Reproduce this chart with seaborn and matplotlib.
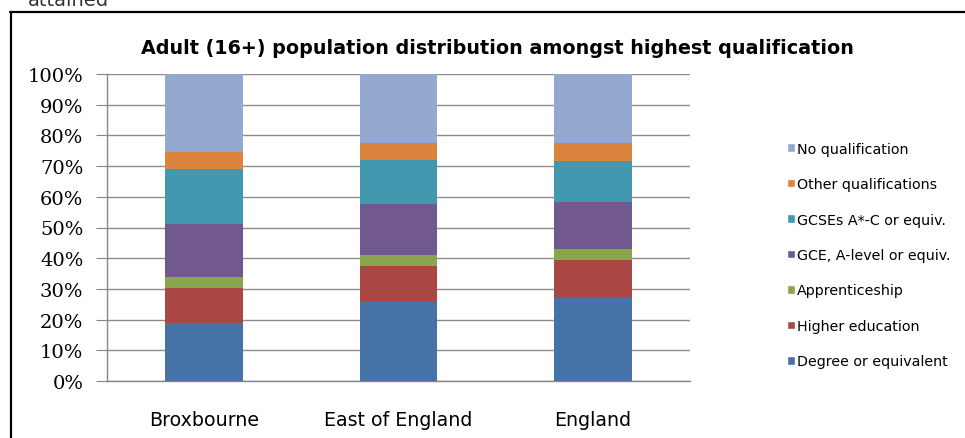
import seaborn as sns
import pandas as pd
from matplotlib import pyplot as plt
from matplotlib.lines import Line2D
from matplotlib.patches import Patch

areas = ['Broxbourne', 'East of England', 'England']
qualificacoes = ['Degree or equivalent', 'Higher education', 'Apprenticeship',
                 'GCE, A-level or equiv.', 'GCSEs A*-C or equiv.',
                 'Other qualifications', 'No qualification']
degree = [19.0, 25.6, 27.4]
higher = [11.2, 11.8, 12.1]
apprentice = [3.8, 3.8, 3.6]
gce = [17.1, 16.3, 15.1]
gcse = [18.1, 14.5, 13.5]
other = [5.3, 5.4, 5.8]
none_q = [25.5, 22.6, 22.5]
cores = ['#4572A7', '#AA4643', '#89A54E', '#71588F', '#4198AF', '#DB843D', '#93A9CF']

series = [degree, higher, apprentice, gce, gcse, other, none_q]
df = pd.DataFrame({'Area': areas})
acumulado = [0, 0, 0]
for nome, vals in zip(qualificacoes, series):
    acumulado = [a + v for a, v in zip(acumulado, vals)]
    df[nome] = acumulado

sns.set_style('white')
plt.rcParams['text.color'] = 'black'
plt.rcParams['xtick.color'] = 'black'
plt.rcParams['ytick.color'] = 'black'
fig = plt.figure(figsize=(9.65, 4.39), dpi=100)
ax = fig.add_axes([107 / 965, 57 / 439, 583 / 965, 307 / 439])

# barras empilhadas: desenha do total para baixo
for nome, cor in reversed(list(zip(qualificacoes, cores))):
    sns.barplot(data=df, x='Area', y=nome, color=cor, width=0.4,
                saturation=1, edgecolor=cor, linewidth=0, ax=ax, zorder=3)

ax.set_ylim(0, 100)
ax.set_xlim(-0.5, 2.5)
ax.set_yticks(range(0, 101, 10))
ax.set_yticklabels([f'{v}%' for v in range(0, 101, 10)], family='DejaVu Serif', fontsize=14)
ax.set_xticks(range(3))
ax.set_xticklabels(areas, family='DejaVu Sans', fontsize=13.7)
ax.set_xticks([-0.5, 0.5, 1.5, 2.5], minor=True)
ax.tick_params(axis='x', which='major', length=0, pad=21)
ax.tick_params(axis='x', which='minor', length=5, color='#868686', direction='out')
ax.tick_params(axis='y', length=8, color='#868686', direction='out', pad=9, left=True)
ax.set_xlabel('')
ax.set_ylabel('')
ax.grid(axis='y', color='#8c8c8c', linewidth=1, zorder=0)
for lado in ['top', 'right']:
    ax.spines[lado].set_visible(False)
for lado in ['left', 'bottom']:
    ax.spines[lado].set_color('#868686')
    ax.spines[lado].set_linewidth(1)

fig.text(497 / 965, 1 - 48 / 439, 'Adult (16+) population distribution amongst highest qualification',
         ha='center', va='center', fontsize=13.8, fontweight='bold', family='DejaVu Sans')

handles = [Patch(facecolor=c, label=q) for q, c in zip(qualificacoes, cores)][::-1]
fig.legend(handles=handles, loc='center left', bbox_to_anchor=(781 / 965, 1 - 256 / 439),
           frameon=False, fontsize=10.3, handlelength=0.55, handleheight=0.55,
           handletextpad=0.15, labelspacing=1.5, borderaxespad=0)

# moldura e texto cortado do documento original
fig.add_artist(Line2D([10 / 965, 1], [1 - 13 / 439, 1 - 13 / 439], color='black', linewidth=1.6))
fig.add_artist(Line2D([11 / 965, 11 / 965], [0, 1 - 13 / 439], color='black', linewidth=1.6))
fig.text(28 / 965, 1 - 6 / 439, 'attained', fontsize=14, color='#333333', va='baseline')

fig.savefig('out.png', dpi=100)
